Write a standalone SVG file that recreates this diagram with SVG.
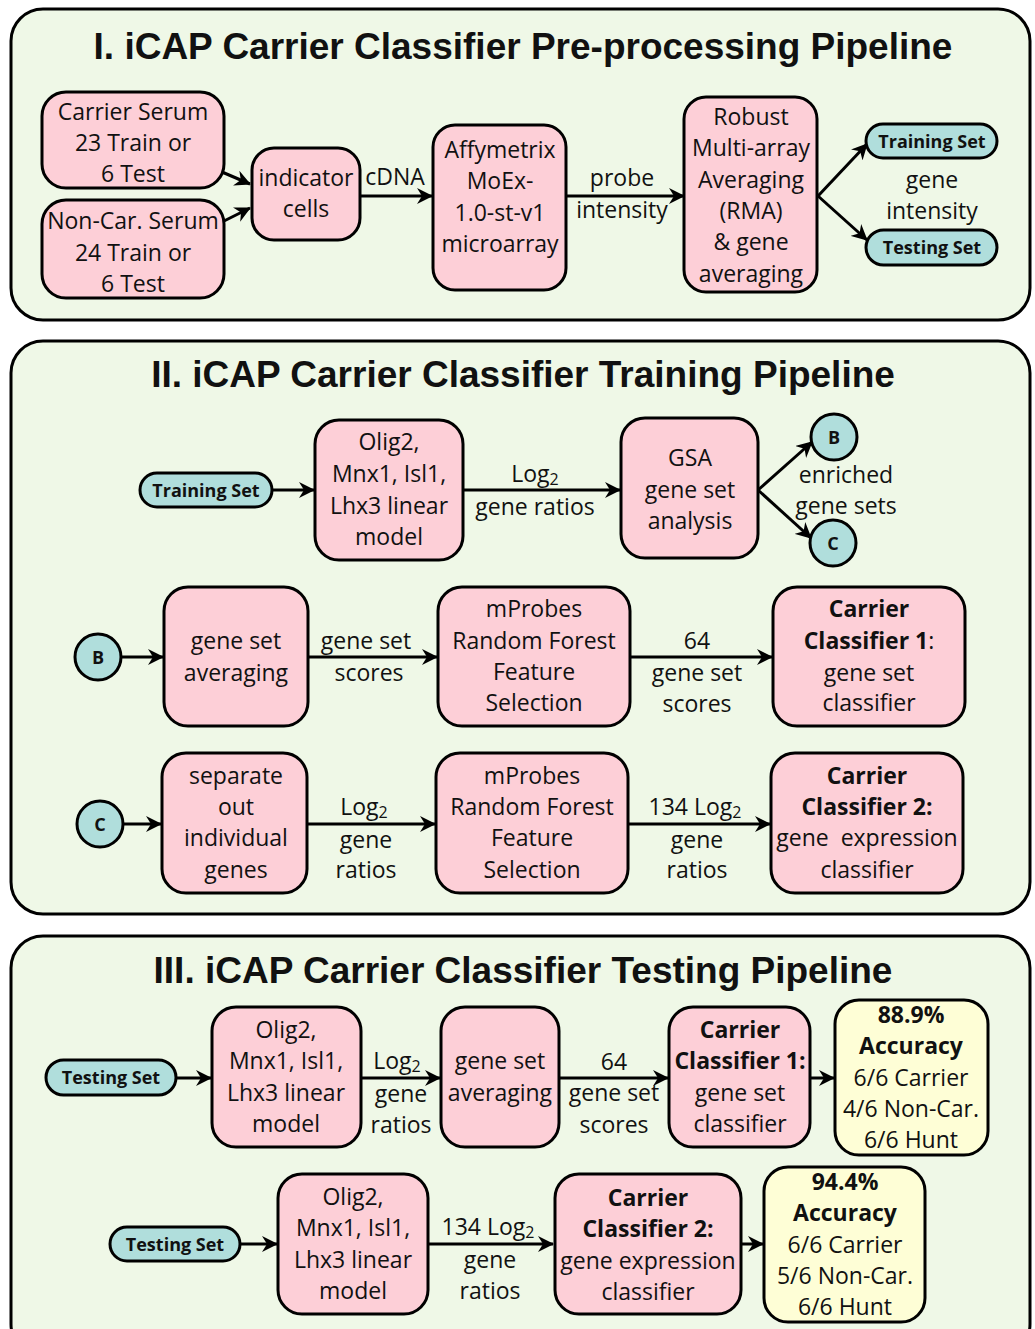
<svg xmlns="http://www.w3.org/2000/svg" width="1035" height="1329" viewBox="0 0 1035 1329">
<style>
.panel{fill:#eff8e7;stroke:#000;stroke-width:3}
.title{font-family:"Liberation Sans",Arial,sans-serif;font-weight:bold;font-size:37px;text-anchor:middle;fill:#111}
.box{fill:#fdcfd7;stroke:#000;stroke-width:3}
.yel{fill:#fefed6;stroke:#000;stroke-width:3}
.teal{fill:#b0dedc;stroke:#000;stroke-width:3}
text{font-family:"Open Sans","Noto Sans",sans-serif;font-size:23px;text-anchor:middle;fill:#111}
.b{font-weight:bold}
.ov{font-weight:bold;font-size:18px}
.sub{font-size:16px}
.edge{stroke:#000;stroke-width:3;fill:none;marker-end:url(#ah)}
</style>
<defs>
<marker id="ah" markerUnits="userSpaceOnUse" markerWidth="16" markerHeight="16" viewBox="0 0 16 16" refX="15" refY="8" orient="auto">
<path d="M0,0 L16,8 L0,16 L5,8 z" fill="#000"/>
</marker>
</defs>

<g id="panels">
<rect class="panel" x="11" y="9" width="1019" height="311" rx="32"/>
<text class="title" x="523" y="59">I. iCAP Carrier Classifier Pre-processing Pipeline</text>
<rect class="panel" x="11" y="341" width="1019" height="573" rx="32"/>
<text class="title" x="523" y="387">II. iCAP Carrier Classifier Training Pipeline</text>
<rect class="panel" x="11" y="936" width="1019" height="420" rx="32"/>
<text class="title" x="523" y="983">III. iCAP Carrier Classifier Testing Pipeline</text>
</g>

<g id="connectors">
<line class="edge" x1="222" y1="172" x2="250" y2="184"/>
<line class="edge" x1="222" y1="222" x2="250" y2="208"/>
<line class="edge" x1="360" y1="196" x2="432" y2="196"/>
<line class="edge" x1="566" y1="196" x2="684" y2="196"/>
<line class="edge" x1="818" y1="196" x2="867" y2="144"/>
<line class="edge" x1="818" y1="196" x2="867" y2="240"/>
<text x="395" y="185">cDNA</text>
<text x="622" y="186">probe</text>
<text x="622" y="218">intensity</text>
<text x="932" y="188">gene</text>
<text x="932" y="219">intensity</text>

<line class="edge" x1="272" y1="490" x2="314" y2="490"/>
<line class="edge" x1="463" y1="490" x2="620" y2="490"/>
<text x="535" y="482">Log<tspan class="sub" dy="3">2</tspan></text>
<text x="535" y="515">gene ratios</text>
<line class="edge" x1="758" y1="490" x2="812" y2="442"/>
<line class="edge" x1="758" y1="490" x2="811" y2="538"/>
<text x="846" y="483">enriched</text>
<text x="846" y="514">gene sets</text>

<line class="edge" x1="121" y1="657" x2="163" y2="657"/>
<line class="edge" x1="308" y1="657" x2="437" y2="657"/>
<text x="366" y="649">gene set</text>
<text x="369" y="681">scores</text>
<line class="edge" x1="630" y1="657" x2="772" y2="657"/>
<text x="697" y="649">64</text>
<text x="697" y="681">gene set</text>
<text x="697" y="712">scores</text>

<line class="edge" x1="123" y1="824" x2="161" y2="824"/>
<line class="edge" x1="307" y1="824" x2="435" y2="824"/>
<text x="364" y="815">Log<tspan class="sub" dy="3">2</tspan></text>
<text x="366" y="848">gene</text>
<text x="366" y="878">ratios</text>
<line class="edge" x1="628" y1="824" x2="770" y2="824"/>
<text x="695" y="815">134 Log<tspan class="sub" dy="3">2</tspan></text>
<text x="697" y="848">gene</text>
<text x="697" y="878">ratios</text>

<line class="edge" x1="176" y1="1078" x2="211" y2="1078"/>
<line class="edge" x1="361" y1="1078" x2="440" y2="1078"/>
<text x="397" y="1069">Log<tspan class="sub" dy="3">2</tspan></text>
<text x="401" y="1102">gene</text>
<text x="401" y="1133">ratios</text>
<line class="edge" x1="559" y1="1078" x2="668" y2="1078"/>
<text x="614" y="1070">64</text>
<text x="614" y="1101">gene set</text>
<text x="614" y="1133">scores</text>
<line class="edge" x1="810" y1="1078" x2="834" y2="1078"/>

<line class="edge" x1="240" y1="1244" x2="277" y2="1244"/>
<line class="edge" x1="428" y1="1244" x2="553" y2="1244"/>
<text x="488" y="1235">134 Log<tspan class="sub" dy="3">2</tspan></text>
<text x="490" y="1268">gene</text>
<text x="490" y="1299">ratios</text>
<line class="edge" x1="741" y1="1244" x2="763" y2="1244"/>
</g>

<g id="carrier-serum">
<rect class="box" x="42" y="92" width="182" height="96" rx="24"/>
<text x="133" y="120">Carrier Serum</text>
<text x="133" y="151">23 Train or</text>
<text x="133" y="182">6 Test</text>
</g>
<g id="noncar-serum">
<rect class="box" x="42" y="200" width="182" height="98" rx="24"/>
<text x="133" y="229">Non-Car. Serum</text>
<text x="133" y="261">24 Train or</text>
<text x="133" y="292">6 Test</text>
</g>
<g id="indicator-cells">
<rect class="box" x="252" y="148" width="108" height="92" rx="22"/>
<text x="306" y="186">indicator</text>
<text x="306" y="217">cells</text>
</g>
<g id="affymetrix">
<rect class="box" x="433" y="125" width="133" height="165" rx="22"/>
<text x="500" y="158">Affymetrix</text>
<text x="500" y="189">MoEx-</text>
<text x="500" y="221">1.0-st-v1</text>
<text x="500" y="252">microarray</text>
</g>
<g id="rma">
<rect class="box" x="684" y="97" width="133" height="195" rx="22"/>
<text x="751" y="125">Robust</text>
<text x="751" y="156">Multi-array</text>
<text x="751" y="188">Averaging</text>
<text x="751" y="219">(RMA)</text>
<text x="751" y="250">&amp; gene</text>
<text x="751" y="282">averaging</text>
</g>
<g id="training-set-1">
<rect class="teal" x="866" y="124" width="131" height="34" rx="17"/>
<text class="ov" x="932" y="148">Training Set</text>
</g>
<g id="testing-set-1">
<rect class="teal" x="866" y="230" width="131" height="35" rx="17.5"/>
<text class="ov" x="932" y="254">Testing Set</text>
</g>

<g id="training-set-2">
<rect class="teal" x="140" y="473" width="132" height="34" rx="17"/>
<text class="ov" x="206" y="497">Training Set</text>
</g>
<g id="olig2-train">
<rect class="box" x="315" y="420" width="148" height="140" rx="24"/>
<text x="389" y="450">Olig2,</text>
<text x="389" y="482">Mnx1, Isl1,</text>
<text x="389" y="514">Lhx3 linear</text>
<text x="389" y="545">model</text>
</g>
<g id="gsa">
<rect class="box" x="621" y="418" width="137" height="140" rx="24"/>
<text x="690" y="466">GSA</text>
<text x="690" y="498">gene set</text>
<text x="690" y="529">analysis</text>
</g>
<g id="b-top">
<circle class="teal" cx="834" cy="437" r="23"/>
<text class="ov" x="834" y="444">B</text>
</g>
<g id="c-top">
<circle class="teal" cx="833" cy="543" r="23"/>
<text class="ov" x="833" y="550">C</text>
</g>

<g id="b-row">
<circle class="teal" cx="98" cy="657" r="23"/>
<text class="ov" x="98" y="664">B</text>
</g>
<g id="gene-set-avg-train">
<rect class="box" x="164" y="587" width="144" height="139" rx="24"/>
<text x="236" y="649">gene set</text>
<text x="236" y="681">averaging</text>
</g>
<g id="mprobes-1">
<rect class="box" x="438" y="587" width="192" height="139" rx="24"/>
<text x="534" y="617">mProbes</text>
<text x="534" y="649">Random Forest</text>
<text x="534" y="680">Feature</text>
<text x="534" y="711">Selection</text>
</g>
<g id="cc1-train">
<rect class="box" x="773" y="587" width="192" height="139" rx="24"/>
<text class="b" x="869" y="617">Carrier</text>
<text x="869" y="649"><tspan class="b">Classifier 1</tspan>:</text>
<text x="869" y="681">gene set</text>
<text x="869" y="711">classifier</text>
</g>

<g id="c-row">
<circle class="teal" cx="100" cy="824" r="23"/>
<text class="ov" x="100" y="831">C</text>
</g>
<g id="separate-out">
<rect class="box" x="162" y="753" width="145" height="140" rx="24"/>
<text x="236" y="784">separate</text>
<text x="236" y="815">out</text>
<text x="236" y="846">individual</text>
<text x="236" y="878">genes</text>
</g>
<g id="mprobes-2">
<rect class="box" x="436" y="753" width="192" height="140" rx="24"/>
<text x="532" y="784">mProbes</text>
<text x="532" y="815">Random Forest</text>
<text x="532" y="846">Feature</text>
<text x="532" y="878">Selection</text>
</g>
<g id="cc2-train">
<rect class="box" x="771" y="753" width="192" height="140" rx="24"/>
<text class="b" x="867" y="784">Carrier</text>
<text class="b" x="867" y="815">Classifier 2:</text>
<text x="867" y="846" xml:space="preserve">gene  expression</text>
<text x="867" y="878">classifier</text>
</g>

<g id="testing-set-2">
<rect class="teal" x="46" y="1060" width="130" height="35" rx="17.5"/>
<text class="ov" x="111" y="1084">Testing Set</text>
</g>
<g id="olig2-test-1">
<rect class="box" x="212" y="1007" width="149" height="140" rx="24"/>
<text x="286" y="1038">Olig2,</text>
<text x="286" y="1069">Mnx1, Isl1,</text>
<text x="286" y="1101">Lhx3 linear</text>
<text x="286" y="1132">model</text>
</g>
<g id="gene-set-avg-test">
<rect class="box" x="441" y="1007" width="118" height="140" rx="24"/>
<text x="500" y="1069">gene set</text>
<text x="500" y="1101">averaging</text>
</g>
<g id="cc1-test">
<rect class="box" x="669" y="1007" width="141" height="140" rx="24"/>
<text class="b" x="740" y="1038">Carrier</text>
<text class="b" x="740" y="1069">Classifier 1:</text>
<text x="740" y="1101">gene set</text>
<text x="740" y="1132">classifier</text>
</g>
<g id="result-1">
<rect class="yel" x="835" y="1000" width="153" height="155" rx="24"/>
<text class="b" x="911" y="1023">88.9%</text>
<text class="b" x="911" y="1054">Accuracy</text>
<text x="911" y="1086">6/6 Carrier</text>
<text x="911" y="1117">4/6 Non-Car.</text>
<text x="911" y="1148">6/6 Hunt</text>
</g>

<g id="testing-set-3">
<rect class="teal" x="110" y="1227" width="130" height="34" rx="17"/>
<text class="ov" x="175" y="1251">Testing Set</text>
</g>
<g id="olig2-test-2">
<rect class="box" x="278" y="1174" width="150" height="140" rx="24"/>
<text x="353" y="1205">Olig2,</text>
<text x="353" y="1236">Mnx1, Isl1,</text>
<text x="353" y="1268">Lhx3 linear</text>
<text x="353" y="1299">model</text>
</g>
<g id="cc2-test">
<rect class="box" x="555" y="1174" width="186" height="140" rx="24"/>
<text class="b" x="648" y="1206">Carrier</text>
<text class="b" x="648" y="1237">Classifier 2:</text>
<text x="648" y="1269">gene expression</text>
<text x="648" y="1300">classifier</text>
</g>
<g id="result-2">
<rect class="yel" x="764" y="1167" width="161" height="155" rx="24"/>
<text class="b" x="845" y="1190">94.4%</text>
<text class="b" x="845" y="1221">Accuracy</text>
<text x="845" y="1253">6/6 Carrier</text>
<text x="845" y="1284">5/6 Non-Car.</text>
<text x="845" y="1315">6/6 Hunt</text>
</g>
</svg>
